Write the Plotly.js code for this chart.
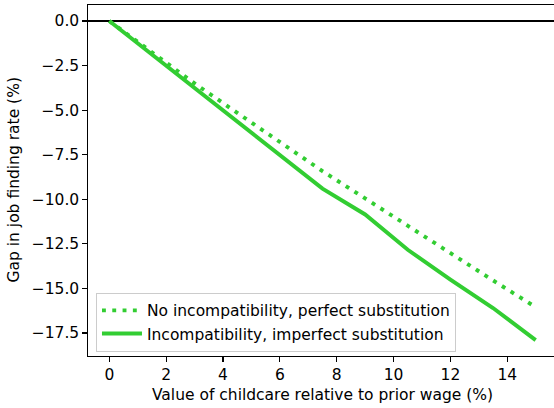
<!DOCTYPE html>
<html>
<head>
<meta charset="utf-8">
<script src="https://cdn.plot.ly/plotly-3.0.1.min.js"></script>
<style>
html, body { margin: 0; padding: 0; overflow: hidden; background: #fff; width: 554px; height: 408px; }
#chart { width: 560px; height: 408px; }
</style>
</head>
<body>
<div id="chart"></div>
<script>
// Data
const childcareValue = [0, 1.5, 3, 4.5, 6, 7.5, 9, 10.5, 12, 13.5, 15];
const gapPerfectSubst = [0, -1.78, -3.5, -5.15, -6.8, -8.42, -9.95, -11.5, -13.05, -14.55, -16.05];
const gapImperfectSubst = [0, -1.87, -3.74, -5.6, -7.47, -9.4, -10.85, -12.83, -14.5, -16.1, -17.9];
const seriesNames = ["No incompatibility, perfect substitution", "Incompatibility, imperfect substitution"];
const xTickVals = [0, 2, 4, 6, 8, 10, 12, 14];
const xTickText = ["0", "2", "4", "6", "8", "10", "12", "14"];
const yTickVals = [0, -2.5, -5, -7.5, -10, -12.5, -15, -17.5];
const yTickText = ["0.0", "\u22122.5", "\u22125.0", "\u22127.5", "\u221210.0", "\u221212.5", "\u221215.0", "\u221217.5"];
const xTitle = "Value of childcare relative to prior wage (%)";
const yTitle = "Gap in job finding rate (%)";

const green = "#32cd32";
const fontFam = "DejaVu Sans, sans-serif";
const fs = 15.5;

const traces = [
  {
    x: childcareValue, y: gapPerfectSubst, name: seriesNames[0],
    type: "scatter", mode: "lines", legendgroup: "a",
    line: { color: green, width: 3.9, dash: "3.9px,6.4px" }
  },
  {
    x: childcareValue, y: gapImperfectSubst, name: seriesNames[1],
    type: "scatter", mode: "lines", legendgroup: "b",
    line: { color: green, width: 3.9 }
  }
];

const layout = {
  width: 560, height: 408,
  margin: { l: 88, r: 3, t: 5, b: 52 },
  paper_bgcolor: "#ffffff", plot_bgcolor: "#ffffff",
  font: { family: fontFam, size: fs, color: "#000" },
  showlegend: true,
  legend: {
    x: 0.017, y: 0.012, xanchor: "left", yanchor: "bottom",
    bgcolor: "rgba(255,255,255,0.8)", bordercolor: "#cccccc", borderwidth: 1,
    font: { family: fontFam, size: fs, color: "#000" },
    tracegroupgap: 0, itemwidth: 40
  },
  xaxis: {
    range: [-0.75, 15.75], tickmode: "array", tickvals: xTickVals, ticktext: xTickText,
    ticks: "outside", ticklen: 4.5, tickwidth: 1.2, tickcolor: "#000",
    showline: true, linecolor: "#000", linewidth: 1.2, mirror: true,
    showgrid: false, zeroline: false,
    tickfont: { family: fontFam, size: fs, color: "#000" },
    title: { text: xTitle, font: { family: fontFam, size: fs, color: "#000" } }
  },
  yaxis: {
    range: [-18.79, 0.9], tickmode: "array", tickvals: yTickVals, ticktext: yTickText,
    ticks: "outside", ticklen: 4.5, tickwidth: 1.2, tickcolor: "#000",
    showline: true, linecolor: "#000", linewidth: 1.2, mirror: true,
    showgrid: false, zeroline: true, zerolinecolor: "#000", zerolinewidth: 1.3,
    tickfont: { family: fontFam, size: fs, color: "#000" }
  },
  annotations: [
    {
      text: yTitle, textangle: -90, showarrow: false,
      xref: "paper", yref: "paper", x: (13 - 88) / 469, y: 0.5,
      xanchor: "center", yanchor: "middle",
      font: { family: fontFam, size: fs, color: "#000" }
    }
  ]
};

Plotly.newPlot("chart", traces, layout, { displayModeBar: false, responsive: false, staticPlot: true }).then(function (gd) {
  // nudge the x-axis title up a few pixels to match the reference
  const t = gd.querySelector(".g-xtitle text");
  if (t) {
    const y = parseFloat(t.getAttribute("y"));
    t.setAttribute("y", y - 4);
  }
});
</script>
</body>
</html>
